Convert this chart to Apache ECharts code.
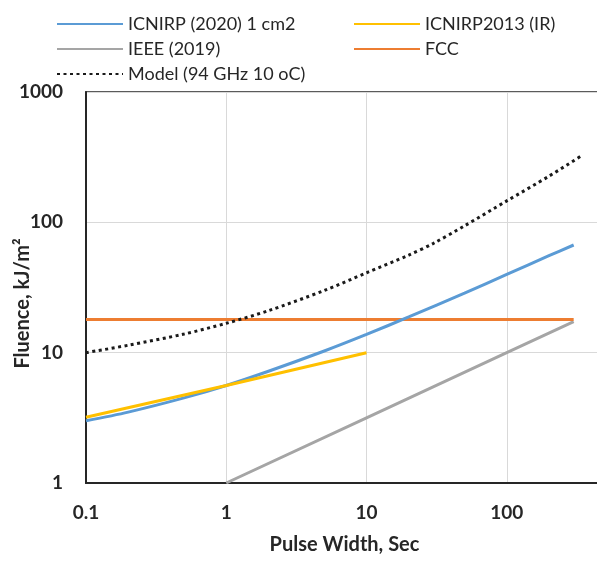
<!DOCTYPE html>
<html>
<head>
<meta charset="utf-8">
<script src="https://cdn.jsdelivr.net/npm/echarts@6/dist/echarts.min.js"></script>
<style>
html,body{margin:0;padding:0;background:#fff;}
#chart{width:597px;height:563px;}
</style>
</head>
<body>
<div id="chart"></div>
<script>
// ---- data ----
var icnirp2020Pulse = [0.1, 0.2, 0.5, 1, 2, 5, 10, 20, 50, 100, 200, 300];
var icnirp2020Fluence = [3.0, 3.5, 4.5, 5.6, 7.2, 10.3, 13.8, 18.8, 28.6, 39.8, 55.5, 67];

var icnirp2013Pulse = [0.1, 1, 10];
var icnirp2013Fluence = [3.2, 5.6, 10];

var ieeePulse = [1, 10, 100, 300];
var ieeeFluence = [1, 3.16, 10, 17.3];

var fccPulse = [0.1, 300];
var fccFluence = [18, 18];

var modelPulse = [0.1, 0.2, 0.5, 1, 2, 5, 10, 20, 30, 50, 100, 200, 350];
var modelFluence = [10, 11.4, 13.9, 16.8, 21, 30, 41, 56, 69, 94, 146, 226, 330];

var xTickLabels = ['0.1', '1', '10', '100', '1000'];
var yTickLabels = ['1', '10', '100', '1000'];

var seriesNames = ['ICNIRP (2020) 1 cm2', 'ICNIRP2013 (IR)', 'IEEE (2019)', 'FCC', 'Model (94 GHz 10 oC)'];

function pairs(xs, ys) {
  return xs.map(function (x, i) { return [x, ys[i]]; });
}
function tickLabel(list, v) {
  var s = String(Number(v.toPrecision(3)));
  return list.indexOf(s) >= 0 ? s : '';
}

var FONT = 'Lato';
var chart = echarts.init(document.getElementById('chart'), null, {renderer: 'canvas'});

var legendText = {fontFamily: FONT, fontSize: 18, color: '#262626', lineHeight: 18};

chart.setOption({
  animation: false,
  backgroundColor: '#ffffff',
  legend: [
    {
      data: [seriesNames[0], seriesNames[2], seriesNames[4]],
      orient: 'vertical', left: 51, top: 10,
      itemWidth: 66, itemHeight: 18, itemGap: 7,
      itemStyle: {opacity: 0},
      textStyle: legendText
    },
    {
      data: [seriesNames[1], seriesNames[3]],
      orient: 'vertical', left: 348, top: 10,
      itemWidth: 66, itemHeight: 18, itemGap: 7,
      itemStyle: {opacity: 0},
      textStyle: legendText
    }
  ],
  grid: {
    left: 86, top: 92, width: 561, height: 391,
    containLabel: false, outerBoundsMode: 'none',
    show: true, borderColor: '#262626', borderWidth: 1.5, backgroundColor: 'transparent'
  },
  xAxis: {
    type: 'log', logBase: 10, min: 0.1, max: 1000,
    name: 'Pulse Width, Sec', nameLocation: 'middle', nameGap: 52, nameMoveOverlap: false,
    nameTextStyle: {fontFamily: FONT, fontWeight: 'bold', fontSize: 20, color: '#262626', padding: [0, 44, 0, 0]},
    axisLine: {show: true, lineStyle: {color: '#262626', width: 2}},
    axisTick: {show: false},
    splitLine: {show: true, lineStyle: {color: '#d9d9d9', width: 1}},
    axisLabel: {
      margin: 20, fontFamily: FONT, fontWeight: 'bold', fontSize: 19, color: '#262626',
      formatter: function (v) { return tickLabel(xTickLabels, v); }
    }
  },
  yAxis: {
    type: 'log', logBase: 10, min: 1, max: 1000,
    name: 'Fluence, kJ/m²', nameLocation: 'middle', nameGap: 53, nameMoveOverlap: false,
    nameTextStyle: {fontFamily: FONT, fontWeight: 'bold', fontSize: 20, color: '#262626', padding: [0, 32, 0, 0]},
    axisLine: {show: true, lineStyle: {color: '#262626', width: 2}},
    axisTick: {show: false},
    splitLine: {show: true, lineStyle: {color: '#d9d9d9', width: 1}},
    axisLabel: {
      margin: 23, fontFamily: FONT, fontWeight: 'bold', fontSize: 19, color: '#262626',
      formatter: function (v) { return tickLabel(yTickLabels, v); }
    }
  },
  series: [
    {
      name: seriesNames[0], type: 'line', smooth: 0.3, symbol: 'none',
      data: pairs(icnirp2020Pulse, icnirp2020Fluence),
      lineStyle: {color: '#5B9BD5', width: 3}, itemStyle: {color: '#5B9BD5'}, z: 3
    },
    {
      name: seriesNames[1], type: 'line', symbol: 'none',
      data: pairs(icnirp2013Pulse, icnirp2013Fluence),
      lineStyle: {color: '#FFC000', width: 3}, itemStyle: {color: '#FFC000'}, z: 4
    },
    {
      name: seriesNames[2], type: 'line', symbol: 'none',
      data: pairs(ieeePulse, ieeeFluence),
      lineStyle: {color: '#A5A5A5', width: 3}, itemStyle: {color: '#A5A5A5'}, z: 2
    },
    {
      name: seriesNames[3], type: 'line', symbol: 'none',
      data: pairs(fccPulse, fccFluence),
      lineStyle: {color: '#ED7D31', width: 3}, itemStyle: {color: '#ED7D31'}, z: 2
    },
    {
      name: seriesNames[4], type: 'line', smooth: 0.3, symbol: 'none',
      data: pairs(modelPulse, modelFluence),
      lineStyle: {color: '#1a1a1a', width: 3, type: [3, 3.5]}, itemStyle: {color: '#1a1a1a'}, z: 5
    }
  ]
});
</script>
</body>
</html>
